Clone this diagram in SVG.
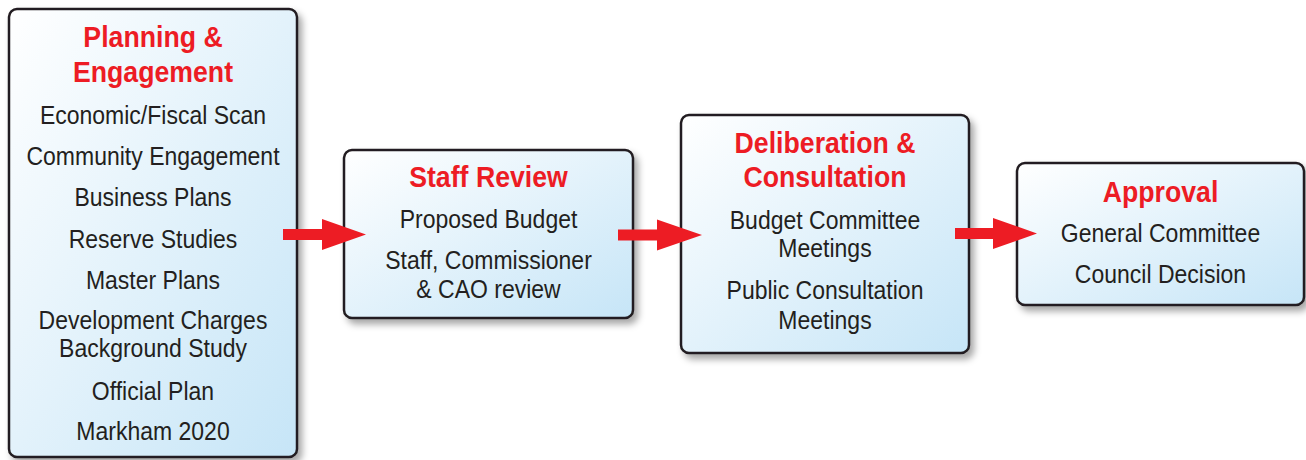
<svg xmlns="http://www.w3.org/2000/svg" width="1306" height="460" viewBox="0 0 1306 460">
<defs>
<linearGradient id="fill" x1="0" y1="0" x2="1" y2="1">
<stop offset="0" stop-color="#ffffff"/>
<stop offset="1" stop-color="#c6e5f7"/>
</linearGradient>
<filter id="shadow" x="-10%" y="-10%" width="130%" height="130%">
<feDropShadow dx="4" dy="5" stdDeviation="3.5" flood-color="#000" flood-opacity="0.35"/>
</filter>
</defs>
<style>
.box{fill:url(#fill);stroke:#231f20;stroke-width:2.5;filter:url(#shadow)}
.t{font-family:"Liberation Sans",Arial,sans-serif;text-anchor:middle}
.h{font-size:29px;font-weight:bold;fill:#ed1c24}
.b{font-size:25px;fill:#231f20}
.arrow{fill:#ed1c24}
</style>
<rect width="1306" height="460" fill="#ffffff"/>
<g id="planning">
<rect class="box" x="9" y="9" width="288" height="448" rx="8"/>
<g class="t" transform="translate(153,0) scale(0.92,1)">
<text class="h" x="0" y="47">Planning &amp;</text>
<text class="h" x="0" y="82">Engagement</text>
<text class="b" x="0" y="124">Economic/Fiscal Scan</text>
<text class="b" x="0" y="165">Community Engagement</text>
<text class="b" x="0" y="206">Business Plans</text>
<text class="b" x="0" y="248">Reserve Studies</text>
<text class="b" x="0" y="289">Master Plans</text>
<text class="b" x="0" y="329">Development Charges</text>
<text class="b" x="0" y="357">Background Study</text>
<text class="b" x="0" y="400">Official Plan</text>
<text class="b" x="0" y="440">Markham 2020</text>
</g>
</g>
<g id="staff-review">
<rect class="box" x="344" y="150" width="289" height="168" rx="8"/>
<g class="t" transform="translate(488.5,0) scale(0.92,1)">
<text class="h" x="0" y="187">Staff Review</text>
<text class="b" x="0" y="228">Proposed Budget</text>
<text class="b" x="0" y="269">Staff, Commissioner</text>
<text class="b" x="0" y="298">&amp; CAO review</text>
</g>
</g>
<g id="deliberation">
<rect class="box" x="681" y="115" width="288" height="238" rx="8"/>
<g class="t" transform="translate(825,0) scale(0.92,1)">
<text class="h" x="0" y="153">Deliberation &amp;</text>
<text class="h" x="0" y="187">Consultation</text>
<text class="b" x="0" y="229">Budget Committee</text>
<text class="b" x="0" y="257">Meetings</text>
<text class="b" x="0" y="299">Public Consultation</text>
<text class="b" x="0" y="329">Meetings</text>
</g>
</g>
<g id="approval">
<rect class="box" x="1017" y="163" width="287" height="142" rx="8"/>
<g class="t" transform="translate(1160.5,0) scale(0.92,1)">
<text class="h" x="0" y="202">Approval</text>
<text class="b" x="0" y="242">General Committee</text>
<text class="b" x="0" y="283">Council Decision</text>
</g>
</g>
<g id="connectors">
<polygon class="arrow" points="283,229 322,229 322,219 366,234.5 322,250 322,240 283,240"/>
<polygon class="arrow" points="618,229.5 657,229.5 657,219.5 702,235 657,250.5 657,240.5 618,240.5"/>
<polygon class="arrow" points="955,228 993,228 993,218 1037,233.5 993,249 993,239 955,239"/>
</g>
</svg>
